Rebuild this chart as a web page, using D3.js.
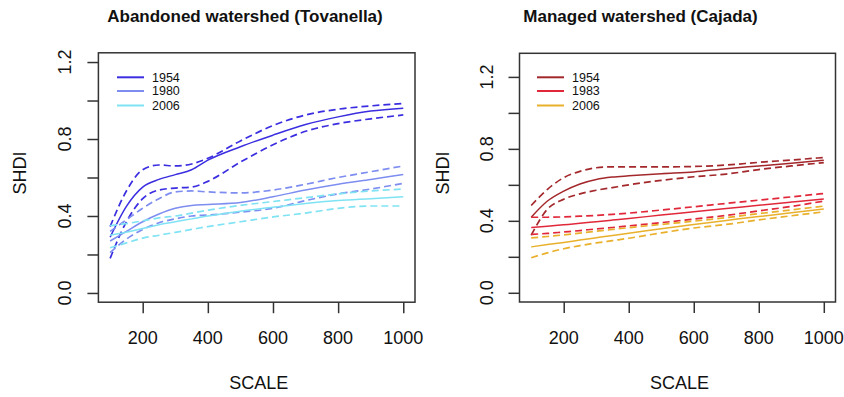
<!DOCTYPE html>
<html>
<head>
<meta charset="utf-8">
<script src="https://cdn.jsdelivr.net/npm/d3@7"></script>
<style>
  body { margin: 0; background: #ffffff; }
  text { font-family: "Liberation Sans", Arial, sans-serif; fill: #111; }
</style>
</head>
<body>
<div id="chart"></div>
<script>
// x positions of the fitted curves (SCALE)
var scaleVals = [100, 150, 200, 250, 300, 350, 400, 500, 600, 700, 800, 900, 1000];
var xTicks = [200, 400, 600, 800, 1000];
var yTicks = [0, 0.2, 0.4, 0.6, 0.8, 1.0, 1.2];
var yLabels = [0, 0.4, 0.8, 1.2];

// Abandoned watershed (Tovanella)
var tovYears = ["1954", "1980", "2006"];
var tov1954 = [0.29, 0.45, 0.55, 0.59, 0.615, 0.64, 0.69, 0.76, 0.82, 0.875, 0.915, 0.945, 0.96];
var tov1954Hi = [0.345, 0.53, 0.64, 0.665, 0.66, 0.67, 0.70, 0.79, 0.87, 0.925, 0.955, 0.972, 0.985];
var tov1954Lo = [0.18, 0.37, 0.49, 0.535, 0.545, 0.55, 0.58, 0.68, 0.77, 0.84, 0.88, 0.905, 0.925];
var tov1980 = [0.27, 0.32, 0.37, 0.41, 0.44, 0.455, 0.46, 0.47, 0.50, 0.535, 0.565, 0.59, 0.615];
var tov1980Hi = [0.32, 0.38, 0.44, 0.49, 0.525, 0.53, 0.525, 0.52, 0.535, 0.565, 0.60, 0.63, 0.66];
var tov1980Lo = [0.21, 0.28, 0.33, 0.365, 0.385, 0.40, 0.405, 0.42, 0.44, 0.48, 0.515, 0.54, 0.57];
var tov2006 = [0.30, 0.315, 0.335, 0.355, 0.37, 0.385, 0.40, 0.425, 0.445, 0.465, 0.48, 0.49, 0.50];
var tov2006Hi = [0.35, 0.36, 0.375, 0.39, 0.40, 0.415, 0.43, 0.455, 0.475, 0.495, 0.515, 0.53, 0.54];
var tov2006Lo = [0.235, 0.26, 0.285, 0.30, 0.315, 0.33, 0.345, 0.37, 0.395, 0.415, 0.44, 0.452, 0.452];

// Managed watershed (Cajada)
var cajYears = ["1954", "1983", "2006"];
var caj1954 = [0.42, 0.51, 0.565, 0.605, 0.63, 0.643, 0.65, 0.662, 0.672, 0.69, 0.705, 0.72, 0.737];
var caj1954Hi = [0.485, 0.575, 0.64, 0.675, 0.695, 0.70, 0.70, 0.70, 0.702, 0.71, 0.725, 0.738, 0.752];
var caj1954Lo = [0.32, 0.465, 0.52, 0.55, 0.57, 0.585, 0.60, 0.625, 0.645, 0.66, 0.685, 0.705, 0.724];
var caj1983 = [0.363, 0.37, 0.378, 0.386, 0.395, 0.404, 0.413, 0.432, 0.45, 0.468, 0.486, 0.504, 0.522];
var caj1983Hi = [0.42, 0.42, 0.422, 0.426, 0.43, 0.436, 0.443, 0.46, 0.478, 0.497, 0.515, 0.533, 0.552];
var caj1983Lo = [0.325, 0.33, 0.338, 0.346, 0.355, 0.363, 0.372, 0.39, 0.41, 0.43, 0.455, 0.48, 0.51];
var caj2006 = [0.255, 0.268, 0.28, 0.293, 0.306, 0.319, 0.331, 0.356, 0.38, 0.402, 0.424, 0.445, 0.466];
var caj2006Hi = [0.305, 0.313, 0.322, 0.332, 0.342, 0.352, 0.362, 0.38, 0.398, 0.418, 0.44, 0.461, 0.482];
var caj2006Lo = [0.195, 0.222, 0.245, 0.262, 0.277, 0.29, 0.303, 0.333, 0.36, 0.38, 0.405, 0.428, 0.45];

var tovColors = ["#3a2ee0", "#7d8df0", "#7fe3f3"];
var cajColors = ["#a3282c", "#e0283a", "#e9b02c"];

function init() {

	var svg = d3.select("#chart")
		.append("svg")
		.attr("width", 844)
		.attr("height", 397);

	svg.append("rect")
		.attr("width", 844)
		.attr("height", 397)
		.attr("fill", "#ffffff");

	drawPanel(svg, {
		title: "Abandoned watershed (Tovanella)",
		titleX: 245,
		left: 98.4, right: 415, top: 52.8, bottom: 302.2,
		ymax: 1.2,
		tickLabelX: 71,
		yTitleX: 26,
		years: tovYears,
		colors: tovColors,
		legendX: 117,
		fit: [tov1954, tov1980, tov2006],
		hi: [tov1954Hi, tov1980Hi, tov2006Hi],
		lo: [tov1954Lo, tov1980Lo, tov2006Lo]
	});

	drawPanel(svg, {
		title: "Managed watershed (Cajada)",
		titleX: 640.5,
		left: 519.5, right: 835.5, top: 53.3, bottom: 302,
		ymax: 1.28,
		tickLabelX: 492.7,
		yTitleX: 448.7,
		years: cajYears,
		colors: cajColors,
		legendX: 537,
		fit: [caj1954, caj1983, caj2006],
		hi: [caj1954Hi, caj1983Hi, caj2006Hi],
		lo: [caj1954Lo, caj1983Lo, caj2006Lo]
	});
}

function drawPanel(svg, p) {

	// R style 4% padding on both axes
	var xScale = d3.scaleLinear()
		.domain([100 - 36, 1000 + 36])
		.range([p.left, p.right]);

	var yPad = p.ymax * 0.04;
	var yScale = d3.scaleLinear()
		.domain([-yPad, p.ymax + yPad])
		.range([p.bottom, p.top]);

	var g = svg.append("g");

	// x axis
	var xAxis = g.append("g")
		.attr("transform", "translate(0," + p.bottom + ")")
		.call(d3.axisBottom(xScale).tickValues(xTicks).tickSize(11).tickFormat(""));
	xAxis.select(".domain").remove();
	xAxis.selectAll("line").attr("stroke", "#333").attr("stroke-width", 1.5);

	g.selectAll(".xlab")
		.data(xTicks)
		.enter()
		.append("text")
		.attr("x", function(d) { return xScale(d); })
		.attr("y", 344)
		.attr("text-anchor", "middle")
		.attr("font-size", "18px")
		.text(function(d) { return d; });

	// y axis
	var yAxis = g.append("g")
		.attr("transform", "translate(" + p.left + ",0)")
		.call(d3.axisLeft(yScale).tickValues(yTicks).tickSize(11).tickFormat(""));
	yAxis.select(".domain").remove();
	yAxis.selectAll("line").attr("stroke", "#333").attr("stroke-width", 1.5);

	g.selectAll(".ylab")
		.data(yLabels)
		.enter()
		.append("text")
		.attr("transform", function(d) {
			return "translate(" + p.tickLabelX + "," + yScale(d) + ") rotate(-90)";
		})
		.attr("text-anchor", "middle")
		.attr("font-size", "18px")
		.text(function(d) { return d3.format(".1f")(d); });

	// box
	g.append("rect")
		.attr("x", p.left)
		.attr("y", p.top)
		.attr("width", p.right - p.left)
		.attr("height", p.bottom - p.top)
		.attr("fill", "none")
		.attr("stroke", "#333")
		.attr("stroke-width", 1.5);

	// titles
	g.append("text")
		.attr("x", p.titleX)
		.attr("y", 21.7)
		.attr("text-anchor", "middle")
		.attr("font-size", "17px")
		.attr("font-weight", "bold")
		.text(p.title);

	g.append("text")
		.attr("x", (p.left + p.right) / 2 + 2)
		.attr("y", 389)
		.attr("text-anchor", "middle")
		.attr("font-size", "18px")
		.text("SCALE");

	g.append("text")
		.attr("transform", "translate(" + p.yTitleX + "," + 173 + ") rotate(-90)")
		.attr("text-anchor", "middle")
		.attr("font-size", "18px")
		.text("SHDI");

	// curves
	var line = d3.line()
		.x(function(d, i) { return xScale(scaleVals[i]); })
		.y(function(d) { return yScale(d); })
		.curve(d3.curveMonotoneX);

	for (var k = 0; k < p.years.length; k++) {
		[p.hi[k], p.lo[k]].forEach(function(band) {
			g.append("path")
				.attr("d", line(band))
				.attr("fill", "none")
				.attr("stroke", p.colors[k])
				.attr("stroke-width", 1.7)
				.attr("stroke-dasharray", "7,4");
		});
		g.append("path")
			.attr("d", line(p.fit[k]))
			.attr("fill", "none")
			.attr("stroke", p.colors[k])
			.attr("stroke-width", 1.5);
	}

	// legend
	var legendY = [77.3, 91, 105.5];
	var leg = g.selectAll(".legend")
		.data(p.years)
		.enter()
		.append("g");

	leg.append("line")
		.attr("x1", p.legendX)
		.attr("x2", p.legendX + 27)
		.attr("y1", function(d, i) { return legendY[i]; })
		.attr("y2", function(d, i) { return legendY[i]; })
		.attr("stroke", function(d, i) { return p.colors[i]; })
		.attr("stroke-width", 2);

	leg.append("text")
		.attr("x", p.legendX + 35)
		.attr("y", function(d, i) { return legendY[i] + 4.3; })
		.attr("font-size", "12.5px")
		.attr("fill", "#222")
		.text(function(d) { return d; });
}

window.onload = init;
</script>
</body>
</html>
